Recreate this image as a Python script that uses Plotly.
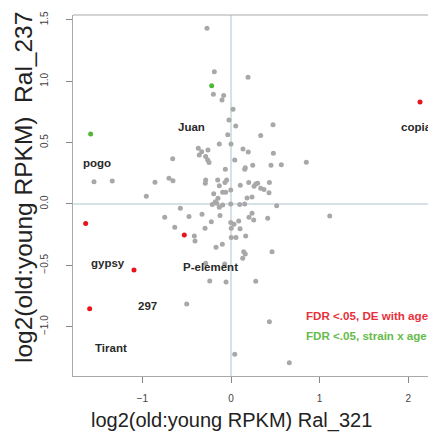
import plotly.graph_objects as go

# Gray points (not significant)
gray_x = [-0.271, -0.188, -0.199, -0.083, -0.102, 0.023, -0.023, 0.053, -0.037, 0.192, 0.474, 0.335,
          -1.546, -1.340, -0.956, -0.858, -0.700, -0.655, -0.658, -0.369, -0.331, -0.358, -0.260, -0.286,
          -0.263, -0.248, -0.132, 0.000, 0.042, 0.135, 0.161, 0.155, -0.064, -0.286, -0.290, -0.150,
          -0.068, -0.049, -0.132, 0.200, 0.105, -0.003, -0.094, -0.060, -0.195, -0.147, -0.177, -0.161,
          -0.094, -0.132, -0.211, -0.003, 0.098, 0.155, -0.572, -0.748, -0.474, -0.327, -0.222, -0.124,
          -0.635, -0.293, -0.414, -0.406, -0.003, 0.034, 0.087, 0.003, 0.102, 0.003, 0.056, -0.098,
          -0.169, 0.143, 0.161, 0.132,
          0.195, 0.478, 0.245, 0.451, 0.568, 0.850, 0.260, 0.279, 0.301, 0.335, 0.372, 0.429, 0.433,
          0.181, 0.237, 0.515, 1.114, 0.237, 0.203, 0.256, 0.414, 0.166, 0.463,
          -0.286, -0.071, -0.240, -0.056, -0.500, 0.042, 0.279, 0.433, 0.658]
gray_y = [1.432, 1.078, 0.894, 0.883, 0.848, 0.772, 0.685, 0.636, 0.565, 1.033, 0.646, 0.557,
          0.182, 0.187, 0.063, 0.177, 0.209, 0.190, 0.369, 0.454, 0.426, 0.399, 0.440, 0.386,
          0.359, 0.337, 0.489, 0.489, 0.359, 0.448, 0.296, 0.283, 0.283, 0.196, 0.169, 0.196,
          0.174, 0.196, 0.149, 0.174, 0.152, 0.114, 0.095, 0.095, 0.084, 0.046, 0.019, 0.006,
          -0.008, -0.027, -0.005, 0.000, -0.005, 0.000, -0.035, -0.109, -0.103, -0.084, -0.144, -0.095,
          -0.190, -0.198, -0.261, -0.302, -0.152, -0.166, -0.139, -0.198, -0.201, -0.274, -0.274, -0.329,
          -0.353, -0.389, -0.408, -0.443,
          0.424, 0.413, 0.315, 0.315, 0.320, 0.340, 0.144, 0.163, 0.169, 0.128, 0.117, 0.092, 0.174,
          0.049, 0.057, -0.014, -0.098, -0.076, -0.109, -0.130, -0.117, -0.261, -0.389,
          -0.483, -0.489, -0.628, -0.636, -0.815, -1.225, -0.630, -0.959, -1.293]

# FDR < .05, DE with age
red_x = [2.133, -1.640, -0.527, -1.095, -1.595]
red_y = [0.831, -0.160, -0.253, -0.538, -0.853]

# FDR < .05, strain x age
green_x = [-0.218, -1.584]
green_y = [0.964, 0.571]

# Element labels
label_text = ["Juan", "pogo", "gypsy", "P-element", "297", "Tirant"]
label_x = [-0.444, -1.509, -1.392, -0.237, -0.940, -1.354]
label_y = [0.630, 0.332, -0.478, -0.516, -0.829, -1.176]
copia_x, copia_y = 1.896, 0.630

x_ticks = [-1, 0, 1, 2]
y_ticks = [-1.0, -0.5, 0.0, 0.5, 1.0, 1.5]
y_tick_text = ["\u22121.0", "\u22120.5", "0.0", "0.5", "1.0", "1.5"]
x_tick_text = ["\u22121", "0", "1", "2"]

W, H = 428, 433
ml, mr, mt, mb = 73, 0, 15, 57
pw, ph = W - ml - mr, H - mt - mb

fig = go.Figure()
line_col = "#c9d8dc"
fig.add_shape(type="line", xref="x", yref="paper", x0=0, x1=0, y0=0, y1=1,
              line=dict(color=line_col, width=1.5), layer="below")
fig.add_shape(type="line", xref="paper", yref="y", x0=0, x1=1, y0=0, y1=0,
              line=dict(color=line_col, width=1.5), layer="below")
# top border of the box
fig.add_shape(type="line", xref="paper", yref="paper", x0=0, x1=1, y0=1, y1=1,
              line=dict(color="#aaaaaa", width=1.2))

fig.add_trace(go.Scatter(x=gray_x, y=gray_y, mode="markers",
                         marker=dict(color="#a8a8a8", size=5), hoverinfo="skip"))
fig.add_trace(go.Scatter(x=red_x, y=red_y, mode="markers",
                         marker=dict(color="#e8141c", size=5), hoverinfo="skip"))
fig.add_trace(go.Scatter(x=green_x, y=green_y, mode="markers",
                         marker=dict(color="#4fb83a", size=5), hoverinfo="skip"))

FONT = "Liberation Sans, Arial"
anns = []
for t, lx, ly in zip(label_text, label_x, label_y):
    anns.append(dict(x=lx, y=ly, xref="x", yref="y", text="<b>%s</b>" % t, showarrow=False,
                     font=dict(family=FONT, size=11.5, color="#2a2a2a")))
anns.append(dict(x=copia_x, y=copia_y, xref="x", yref="y", text="<b>copia</b>", showarrow=False,
                 xanchor="left", font=dict(family=FONT, size=11.5, color="#2a2a2a")))
anns.append(dict(x=0.824, y=-0.910, xref="x", yref="y", text="<b>FDR <.05, DE with age</b>", showarrow=False,
                 xanchor="left", font=dict(family=FONT, size=11.6, color="#e8303a")))
anns.append(dict(x=0.824, y=-1.073, xref="x", yref="y", text="<b>FDR <.05, strain x age</b>", showarrow=False,
                 xanchor="left", font=dict(family=FONT, size=11.6, color="#66bb4a")))


def px_to_paper(sx, sy):
    # figure pixel -> plot-area paper coords
    return (sx - ml) / pw, (H - sy - mb) / ph


tx, ty = px_to_paper(231, 421)
anns.append(dict(x=tx, y=ty, xref="paper", yref="paper", xanchor="center", yanchor="middle",
                 text="log2(old:young RPKM) Ral_321", showarrow=False,
                 font=dict(family=FONT, size=20, color="#222222")))
tx, ty = px_to_paper(23, 188)
anns.append(dict(x=tx, y=ty, xref="paper", yref="paper", xanchor="center", yanchor="middle",
                 text="log2(old:young RPKM)\u00a0\u00a0Ral_237", showarrow=False, textangle=-90,
                 font=dict(family=FONT, size=24.5, color="#222222")))

fig.update_layout(
    width=W, height=H, margin=dict(l=ml, r=mr, t=mt, b=mb),
    plot_bgcolor="white", paper_bgcolor="white", showlegend=False,
    annotations=anns,
    xaxis=dict(range=[-1.783, 2.223], tickvals=x_ticks, ticktext=x_tick_text, showgrid=False, zeroline=False,
               showline=True, linecolor="#aaaaaa", linewidth=1.2, ticks="outside", ticklen=6,
               tickcolor="#888888", tickfont=dict(family=FONT, size=10, color="#444444"),
               ticklabelstandoff=7),
    yaxis=dict(range=[-1.402, 1.540], tickvals=y_ticks, ticktext=y_tick_text, showgrid=False, zeroline=False,
               showline=True, linecolor="#aaaaaa", linewidth=1.2, ticks="outside", ticklen=6,
               tickcolor="#888888", tickangle=-90,
               tickfont=dict(family=FONT, size=10, color="#444444"),
               ticklabelstandoff=14),
)
fig.write_html("out.html", config={"displayModeBar": False},
               post_script="document.body.style.margin='0';document.body.style.overflow='hidden';")
